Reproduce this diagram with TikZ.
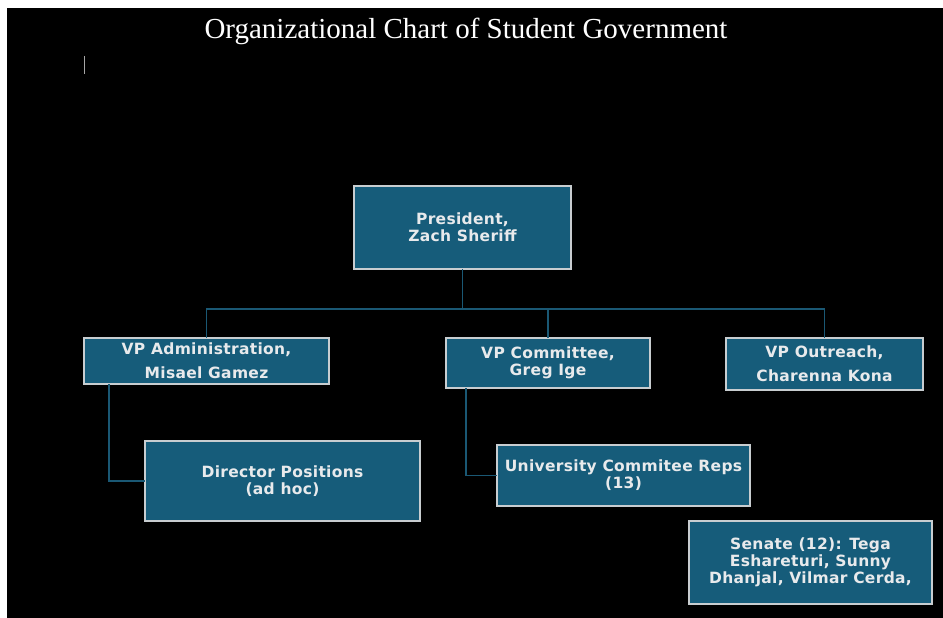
\documentclass[tikz,border=0pt]{standalone}
\usepackage{fontspec}
\setmainfont{Liberation Serif}
\newfontfamily\boxfont[LetterSpace=2]{DejaVu Sans}
\definecolor{boxfill}{RGB}{22,92,122}
\definecolor{boxedge}{RGB}{200,205,208}
\definecolor{linkcol}{RGB}{26,88,116}
\definecolor{boxtext}{RGB}{232,234,236}
\begin{document}
\begin{tikzpicture}[x=1pt,y=-1pt,
  orgbox/.style={draw=boxedge, line width=1.6pt, fill=boxfill, text=boxtext,
    font=\boxfont\bfseries\fontsize{15.5}{17}\selectfont, align=center,
    inner sep=0pt, outer sep=0pt},
  widegap/.style={font=\boxfont\bfseries\fontsize{15.5}{24}\selectfont},
  link/.style={draw=linkcol, line width=1.5pt}]
\useasboundingbox (0,0) rectangle (943,618);
\fill[white] (0,0) rectangle (943,618);
\fill[black] (7,8) rectangle (943,618);
\node[text=white, font=\fontsize{29}{32}\selectfont, anchor=base] (title) at (466,39) {Organizational Chart of Student Government};
\draw[gray!70, line width=1pt] (84,56) -- (84,74);
\node[orgbox, minimum width=217pt, minimum height=83pt] (pres) at (462.5,227.5) {President,\\Zach Sheriff};
\node[orgbox, widegap, minimum width=245pt, minimum height=46pt] (admin) at (206.5,361) {VP Administration,\\Misael Gamez};
\node[orgbox, minimum width=204pt, minimum height=50pt] (comm) at (548,363) {VP Committee,\\Greg Ige};
\node[orgbox, widegap, minimum width=197pt, minimum height=52pt] (out) at (824.5,364) {VP Outreach,\\Charenna Kona};
\node[orgbox, minimum width=275pt, minimum height=80pt] (dir) at (282.5,481) {Director Positions\\(ad hoc)};
\node[orgbox, minimum width=253pt, minimum height=61pt] (univ) at (623.5,475.5) {University Commitee Reps\\(13)};
\node[orgbox, minimum width=243pt, minimum height=83pt] (sen) at (810.5,562.5) {Senate (12): Tega\\Eshareturi, Sunny\\Dhanjal, Vilmar Cerda,};
\coordinate (busR) at (824.5,309);
\draw[link] (admin.north) |- (busR);
\draw[link] (out.north) -- (busR);
\draw[link] (comm.north) -- (comm.north |- busR);
\draw[link] (pres.south) -- (pres.south |- busR);
\draw[link] ([xshift=-97.5pt]admin.south) |- (dir.west);
\draw[link] ([xshift=-82pt]comm.south) |- (univ.west);
\end{tikzpicture}
\end{document}
